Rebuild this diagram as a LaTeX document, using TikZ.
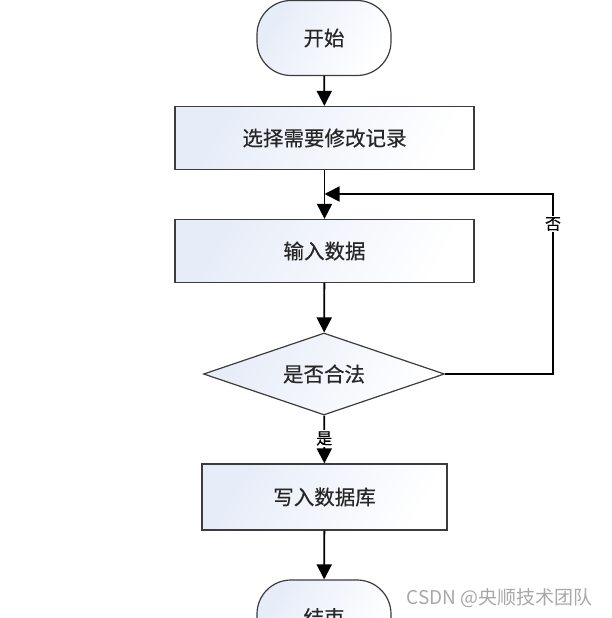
\documentclass[tikz,border=0pt]{standalone}
\usepackage{fontspec}
\newfontfamily\cjk[FakeBold=0.4]{Noto Sans CJK SC}
\usetikzlibrary{shapes.geometric,arrows.meta}
\definecolor{shadeA}{HTML}{E6ECF8}
\definecolor{edgeC}{HTML}{3C3C3C}
\definecolor{wmark}{HTML}{A8A8A8}
\begin{document}
\begin{tikzpicture}[x=1pt,y=-1pt,
  base/.style={draw=edgeC, line width=1.2pt, inner sep=0pt,
    left color=shadeA, right color=white, shading angle=60,
    font=\cjk\fontsize{20.5}{24}\selectfont, text=black!85},
  term/.style={base, rounded corners=34pt, minimum width=134pt, minimum height=75pt},
  proc/.style={base, minimum height=63pt},
  decide/.style={base, diamond, aspect=2.94, minimum width=241pt, minimum height=82pt},
  arr/.style={line width=1.8pt, -{Triangle[length=15pt,width=15pt]}},
  lbl/.style={fill=white, inner sep=1pt, font=\cjk\fontsize{16}{18}\selectfont}
]
\useasboundingbox (0,0) rectangle (611,618);
\begin{scope}
\clip (0,0) rectangle (611,618);
\node[term] (start) at (324,38) {开始};
\node[proc, minimum width=299pt] (sel) at (324.5,138) {选择需要修改记录};
\node[proc, minimum width=299pt] (inp) at (324.5,251) {输入数据};
\node[decide] (dec) at (324,374) {是否合法};
\node[proc, minimum width=245pt, minimum height=66pt] (wr) at (324.5,497) {写入数据库};
\node[term] (end) at (324,617.5) {结束};
\coordinate (j) at (324.5,194);
\coordinate (rx) at (553,194);

\draw[arr] (start) -- (sel);
\draw[arr] (sel) -- (inp);
\draw[arr] (inp) -- (dec);
\draw[arr] (dec) -- node[lbl, pos=0.48] (yes) {是} (wr);
\draw[arr] (wr) -- (end);
\draw[arr] (dec.east) -| (rx) -- (j);
\node[lbl] (no) at (553,224) {否};

\node[text=wmark, font=\fontspec{Noto Sans CJK SC}\fontsize{19}{21}\selectfont, anchor=east] (wm) at (596,598) {CSDN @央顺技术团队};
\end{scope}
\end{tikzpicture}
\end{document}
